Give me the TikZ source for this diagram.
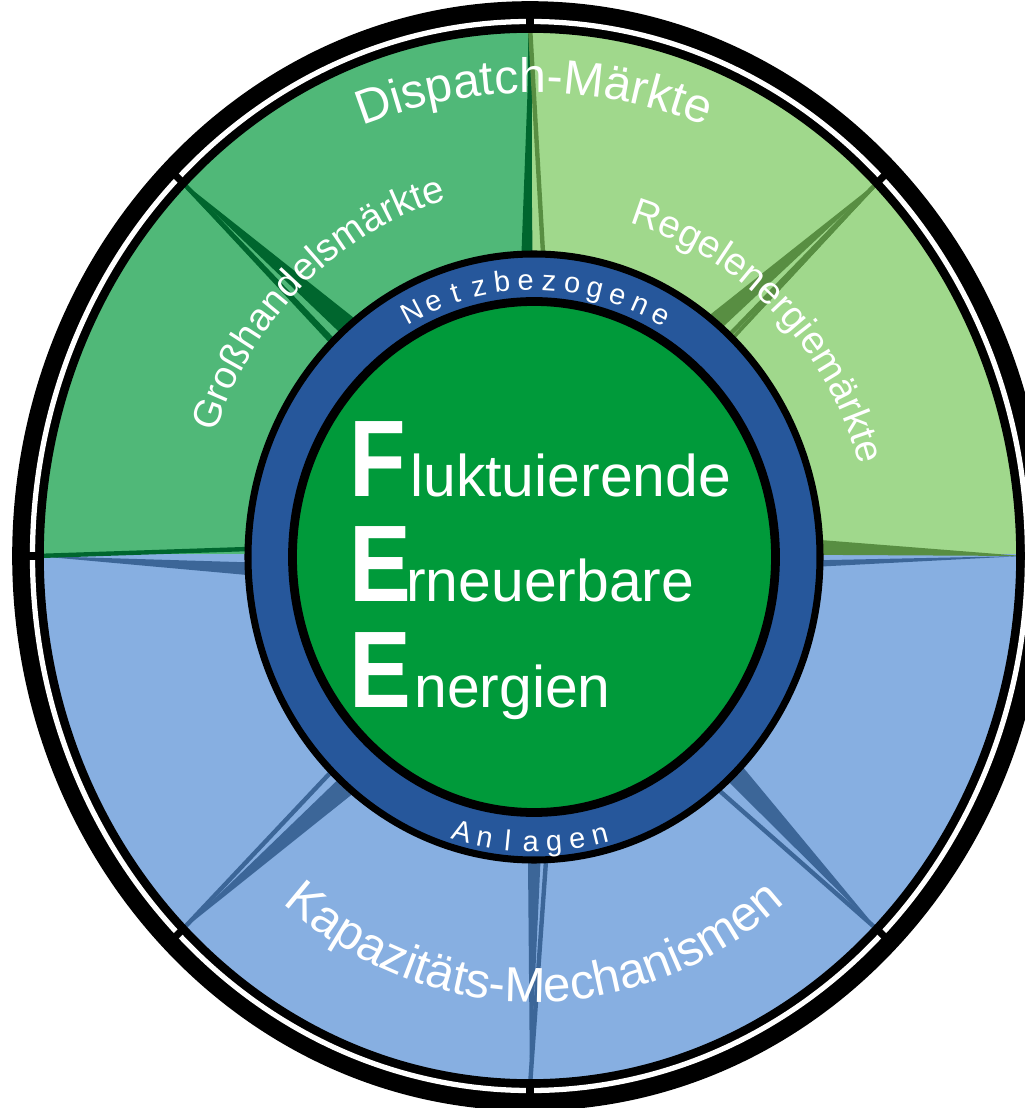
\documentclass[tikz,border=0pt]{standalone}
\usepackage{fontspec}
\setmainfont{Liberation Sans}
\usetikzlibrary{decorations.text}

\definecolor{greenA}{RGB}{80,184,120}
\definecolor{greenAdark}{RGB}{0,102,46}
\definecolor{greenB}{RGB}{160,216,140}
\definecolor{greenBdark}{RGB}{88,142,66}
\definecolor{blueA}{RGB}{135,175,225}
\definecolor{blueAdark}{RGB}{60,102,152}
\definecolor{ringblue}{RGB}{38,87,155}
\definecolor{coregreen}{RGB}{0,154,58}

\begin{document}
\begin{tikzpicture}[x=0.02cm,y=0.02cm]
    \tikzset{pie/.style 2 args={fill=#1, draw=#2, line width=2},
        fold/.style={fill=#1},
        seam/.style={draw=#1, line width=2.5},
        bigletter/.style={anchor=base west, inner sep=0, text=white,
            font=\fontsize{62}{62}\selectfont\bfseries},
        smalltext/.style={anchor=base west, inner sep=0, text=white,
            font=\fontsize{33.5}{33.5}\selectfont},
        ringletter/.style={anchor=base, inner sep=0, text=white,
            font=\fontsize{16.5}{16.5}\selectfont},
        arctext/.style 2 args={decorate, decoration={text along path,
            text align=center, text color=white,
            text={|\fontsize{#1}{#1}\selectfont|#2}}}}
    \useasboundingbox (-534,-551) rectangle (490,557);
    \coordinate (O) at (-4,1);
    % pie pieces of the outer wheel
    \foreach \a/\c/\e in {0/greenB/greenBdark, 45/greenB/greenBdark,
            90/greenA/greenAdark, 135/greenA/greenAdark,
            180/blueA/blueA, 225/blueA/blueA, 270/blueA/blueA, 315/blueA/blueA}
        \filldraw[pie={\c}{\e}] (O) -- ++(\a:493 and 530)
            arc[start angle=\a, delta angle=45, x radius=493, y radius=530] -- cycle;
    \foreach \a in {0,45,...,315}{
        \path (O) ++(\a:493 and 530) coordinate (p\a);
        \path (O) ++(\a:508 and 545) coordinate (q\a);
    }
    % dark folds between the pieces
    \fill[fold=greenAdark] (p135) -- (128.5:287 and 304) -- (132.5:287 and 304) -- cycle;
    \draw[seam=greenAdark] (p135) -- (134.5:287 and 304);
    \fill[fold=greenAdark] (p90) -- (90.3:287 and 304) -- (92.5:287 and 304) -- cycle;
    \draw[seam=greenBdark] (p90) -- (88.2:287 and 304);
    \fill[fold=greenBdark] (p45) -- (49:287 and 304) -- (52.5:287 and 304) -- cycle;
    \draw[seam=greenBdark] (p45) -- (47:287 and 304);
    \fill[fold=greenBdark] (p0) -- (0.4:287 and 304) -- (3.2:287 and 304) -- cycle;
    \fill[fold=blueAdark] (p0) -- (-0.6:287 and 304) -- (-1.8:287 and 304) -- cycle;
    \fill[fold=blueAdark] (p315) -- (-43.5:287 and 304) -- (-47.5:287 and 304) -- cycle;
    \draw[seam=blueAdark] (p315) -- (-50:287 and 304);
    \fill[fold=blueAdark] (p270) -- (268.8:287 and 304) -- (271.3:287 and 304) -- cycle;
    \draw[seam=blueAdark] (p270) -- (272.4:287 and 304);
    \fill[fold=blueAdark] (p225) -- (227:287 and 304) -- (231:287 and 304) -- cycle;
    \draw[seam=blueAdark] (p225) -- (225:287 and 304);
    \fill[fold=blueAdark] (p180) -- (181:287 and 304) -- (183.4:287 and 304) -- cycle;
    \draw[seam=greenAdark] (p180) -- (178.5:287 and 304);
    % rim
    \draw[line width=18] (O) ellipse[x radius=502, y radius=539];
    \draw[white, line width=3] (O) ellipse[x radius=497.5, y radius=534.5];
    \foreach \a in {0,45,...,315}
        \draw[line width=4] (p\a) -- (q\a);
    % hub
    \filldraw[fill=ringblue, draw=black, line width=4] (0,0) ellipse[x radius=286, y radius=303];
    \filldraw[fill=coregreen, draw=black, line width=5] (0,0) ellipse[x radius=241.5, y radius=255.5];
    \foreach \ch [count=\i] in {N,e,t,z,b,e,z,o,g,e,n,e}
        \node[ringletter, rotate={122.75-5.15*\i-90}] (net\i)
            at ({122.75-5.15*\i}:253 and 267) {\ch};
    \foreach \ch [count=\i] in {A,n,l,a,g,e,n}
        \node[ringletter, rotate={249.6+4.93*\i+90}] (anl\i)
            at ({249.6+4.93*\i}:279 and 295) {\ch};
    \node[bigletter] (F) at (-185,60) {\scalebox{0.85}[1]{F}};
    \node[smalltext] (luk) at (-124,60) {luktuierende};
    \node[bigletter] (E1) at (-185,-45) {\scalebox{0.85}[1]{E}};
    \node[smalltext] (rne) at (-128,-45) {rneuerbare};
    \node[bigletter] (E2) at (-185,-151) {\scalebox{0.85}[1]{E}};
    \node[smalltext] (ner) at (-120,-151) {nergien};
    % labels on the wheel
    \path[arctext={27.5}{Dispatch-Märkte}] (150:464) arc[start angle=150, end angle=30, radius=464];
    \path[arctext={28}{Kapazitäts-Mechanismen}] (200:399 and 445)
        arc[start angle=200, end angle=340, x radius=399, y radius=445];
    \path[arctext={22}{Großhandelsmärkte}] (200:338 and 370)
        arc[start angle=200, end angle=62, x radius=338, y radius=370];
    \path[arctext={22}{Regelenergiemärkte}] (113:337 and 348)
        arc[start angle=113, end angle=-23, x radius=337, y radius=348];
\end{tikzpicture}
\end{document}
